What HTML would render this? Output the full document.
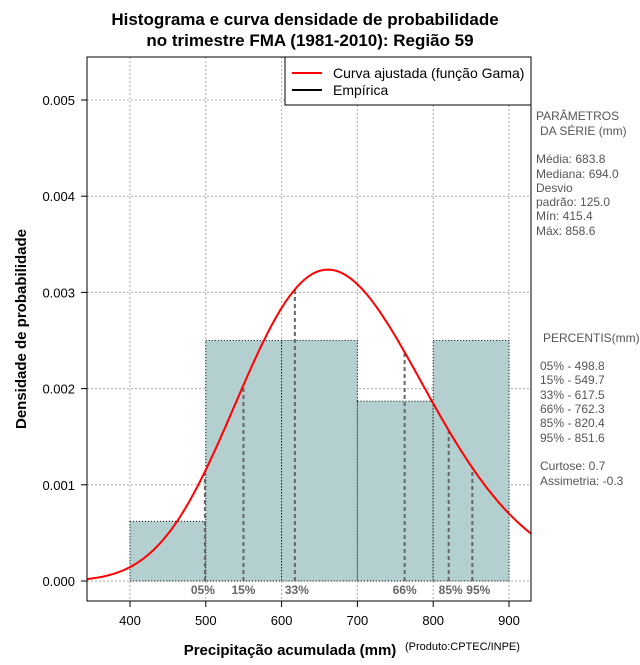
<!DOCTYPE html>
<html><head><meta charset="utf-8"><style>
html,body{margin:0;padding:0;background:#fff;}
svg text{font-family:"Liberation Sans",sans-serif;}
</style></head><body>
<svg id="c" width="640" height="660" xmlns="http://www.w3.org/2000/svg">
<text x="305" y="25" text-anchor="middle" font-size="17" font-weight="bold">Histograma e curva densidade de probabilidade</text>
<text x="310" y="46" text-anchor="middle" font-size="17" font-weight="bold">no trimestre FMA (1981-2010): Região 59</text>
<text x="290" y="655" text-anchor="middle" font-size="15" font-weight="bold">Precipitação acumulada (mm)</text>
<text x="405" y="650" font-size="11">(Produto:CPTEC/INPE)</text>
<text transform="translate(26,329) rotate(-90)" text-anchor="middle" font-size="15" font-weight="bold">Densidade de probabilidade</text>
<g id="plot"></g>
<g font-size="12" fill="#555">
<text x="536" y="120" fill="#555">PARÂMETROS</text>
<text x="540" y="135" fill="#555">DA SÉRIE (mm)</text>
<text x="536" y="163" fill="#555">Média:  683.8</text>
<text x="536" y="178" fill="#555">Mediana:  694.0</text>
<text x="536" y="192" fill="#555">Desvio</text>
<text x="536" y="206" fill="#555">padrão:  125.0</text>
<text x="536" y="220" fill="#555">Mín:  415.4</text>
<text x="536" y="235" fill="#555">Máx:  858.6</text>
<text x="543" y="342" fill="#555">PERCENTIS(mm)</text>
<text x="540" y="370" fill="#555">05% -  498.8</text>
<text x="540" y="384" fill="#555">15% -  549.7</text>
<text x="540" y="399" fill="#555">33% -  617.5</text>
<text x="540" y="413" fill="#555">66% -  762.3</text>
<text x="540" y="427" fill="#555">85% -  820.4</text>
<text x="540" y="442" fill="#555">95% -  851.6</text>
<text x="540" y="470" fill="#555">Curtose:  0.7</text>
<text x="540" y="485" fill="#555">Assimetria:  -0.3</text>
</g>
</svg>
<script>
const binEdges=[400,500,600,700,800,900];
const binDensity=[0.00062,0.0025,0.0025,0.00187,0.0025];
const gammaShape=[29.93];
const gammaScale=[22.85];
const percentileLabels=["05%","15%","33%","66%","85%","95%"];
const percentileValues=[498.8,549.7,617.5,762.3,820.4,851.6];
const xTicks=[400,500,600,700,800,900];
const yTicks=[0,0.001,0.002,0.003,0.004,0.005];
const yTickLabels=["0.000","0.001","0.002","0.003","0.004","0.005"];

const L=87,R=531,T=57,B=601;
const x=v=>130+(v-400)*0.758;
const y=v=>581-v*96.2e3*1;
const NS="http://www.w3.org/2000/svg";
const g=document.getElementById('plot');
function mk(t,a,p){const e=document.createElementNS(NS,t);for(const k in a)e.setAttribute(k,a[k]);(p||g).appendChild(e);return e;}
function lnGamma(z){const c=[76.18009172947146,-86.50532032941677,24.01409824083091,-1.231739572450155,0.1208650973866179e-2,-0.5395239384953e-5];let xx=z,yy=z,t=xx+5.5;t-=(xx+0.5)*Math.log(t);let s=1.000000000190015;for(const ci of c)s+=ci/++yy;return -t+Math.log(2.5066282746310005*s/xx);}
function dens(v){const k=gammaShape[0],th=gammaScale[0];return Math.exp((k-1)*Math.log(v)-v/th-lnGamma(k)-k*Math.log(th));}

xTicks.forEach(v=>{const e=mk('line',{x1:x(v),x2:x(v),y1:T,y2:B,stroke:'#aaa','stroke-dasharray':'2,2','stroke-width':1});});
yTicks.forEach(v=>{const e=mk('line',{x1:L,x2:R,y1:y(v),y2:y(v),stroke:'#aaa','stroke-dasharray':'2,2','stroke-width':1});});
binDensity.forEach((d,i)=>{const e=mk('rect',{x:x(binEdges[i]),y:y(d),width:x(binEdges[i+1])-x(binEdges[i]),height:y(0)-y(d),fill:'#b3cfcf',stroke:'#000','stroke-dasharray':'1,2','stroke-width':1});});
const labOff=[-2,0,2,0,2,6];
percentileValues.forEach((p,i)=>{const e=mk('line',{x1:x(p),x2:x(p),y1:y(0),y2:y(dens(p)),stroke:'#666','stroke-dasharray':'4,3','stroke-width':2});
const t=mk('text',{x:x(p)+labOff[i],y:594,'text-anchor':'middle','font-size':12,'font-weight':'bold',fill:'#666'});t.textContent=percentileLabels[i];});
let pts=[];for(let v=343;v<=930;v+=2){pts.push(x(v).toFixed(1)+','+y(dens(v)).toFixed(1));}
const cp=mk('clipPath',{id:'cl'});mk('rect',{x:L,y:T,width:R-L,height:B-T},cp);
const cu=mk('polyline',{points:pts.join(' '),fill:'none',stroke:'#f00','stroke-width':2,'clip-path':'url(#cl)'});
const fr=mk('rect',{x:L,y:T,width:R-L,height:B-T,fill:'none',stroke:'#000','stroke-width':1});
xTicks.forEach(v=>{mk('line',{x1:x(v),x2:x(v),y1:B,y2:B+6,stroke:'#000'});const t=mk('text',{x:x(v),y:B+24,'text-anchor':'middle','font-size':13});t.textContent=v;});
yTicks.forEach((v,i)=>{mk('line',{x1:L-6,x2:L,y1:y(v),y2:y(v),stroke:'#000'});const t=mk('text',{x:L-12,y:y(v)+5,'text-anchor':'end','font-size':13});t.textContent=yTickLabels[i];});
const lg=mk('g',{});
mk('rect',{x:285,y:57,width:246,height:48,fill:'#fff',stroke:'#000'},lg);
mk('line',{x1:292,x2:322,y1:73,y2:73,stroke:'#f00','stroke-width':2},lg);
mk('line',{x1:292,x2:322,y1:90,y2:90,stroke:'#000','stroke-width':2},lg);
const t1=mk('text',{x:333,y:78,'font-size':14},lg);t1.textContent='Curva ajustada (função Gama)';
const t2=mk('text',{x:333,y:95,'font-size':14},lg);t2.textContent='Empírica';
</script>
</body></html>
